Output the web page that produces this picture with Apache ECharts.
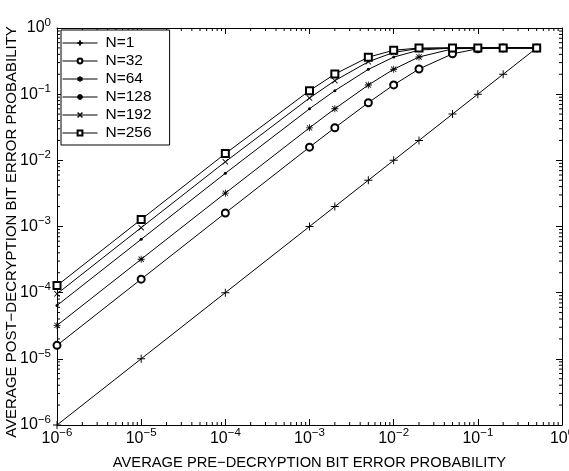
<!DOCTYPE html>
<html>
<head>
<meta charset="utf-8">
<script src="https://cdn.jsdelivr.net/npm/echarts@6/dist/echarts.min.js"></script>
<style>
  html, body { margin: 0; padding: 0; background: #fff; }
  #chart { width: 569px; height: 471px; }
</style>
</head>
<body>
<div id="chart"></div>
<script>
// pre-decryption BER (x) and post-decryption BER for each N (y)
var preBer = [1e-6, 1e-5, 1e-4, 1e-3, 2e-3, 5e-3, 1e-2, 2e-2, 5e-2, 1e-1, 2e-1, 5e-1];
var n1   = [1e-6, 1e-5, 1e-4, 1e-3, 2e-3, 5e-3, 1e-2, 2e-2, 5e-2, 1e-1, 2e-1, 5e-1];
var n32  = [1.6e-5, 1.6e-4, 1.6e-3, 0.0158, 0.0311, 0.0743, 0.138, 0.240, 0.407, 0.486, 0.5, 0.5];
var n64  = [3.2e-5, 3.2e-4, 3.19e-3, 0.031, 0.0602, 0.1375, 0.238, 0.365, 0.483, 0.4996, 0.5, 0.5];
var n128 = [6.4e-5, 6.4e-4, 6.36e-3, 0.0601, 0.113, 0.237, 0.363, 0.463, 0.499, 0.5, 0.5, 0.5];
var n192 = [9.6e-5, 9.6e-4, 9.51e-3, 0.0874, 0.160, 0.309, 0.428, 0.490, 0.5, 0.5, 0.5, 0.5];
var n256 = [1.28e-4, 1.28e-3, 0.01264, 0.113, 0.201, 0.362, 0.462, 0.497, 0.5, 0.5, 0.5, 0.5];
var seriesNames = ['N=1', 'N=32', 'N=64', 'N=128', 'N=192', 'N=256'];

var decades = [-6, -5, -4, -3, -2, -1];

var FONT = 'Liberation Sans, Arial, Helvetica, sans-serif';

// marker shapes (matlab style)
var plusPath = 'path://M4.4,0 L5.6,0 L5.6,10 L4.4,10 Z M0,4.4 L10,4.4 L10,5.6 L0,5.6 Z';
var xPath = 'path://M0,1 L1,0 L10,9 L9,10 Z M9,0 L10,1 L1,10 L0,9 Z';
var starPath = 'path://M4.4,0 L5.6,0 L5.6,10 L4.4,10 Z M0,4.4 L10,4.4 L10,5.6 L0,5.6 Z M0.8,1.6 L1.6,0.8 L9.2,8.4 L8.4,9.2 Z M8.4,0.8 L9.2,1.6 L1.6,9.2 L0.8,8.4 Z';

var chart = echarts.init(document.getElementById('chart'));

function zip(ys) {
  return preBer.map(function (x, i) { return [x, ys[i]]; });
}

function makeLine(name, ys, symbol, size, hollow) {
  return {
    name: name,
    type: 'line',
    data: zip(ys),
    symbol: symbol,
    symbolSize: size,
    showAllSymbol: true,
    lineStyle: { color: '#000', width: 1 },
    itemStyle: { color: '#000', borderColor: '#000', borderWidth: hollow ? 1 : 0 },
    emphasis: { disabled: true },
    animation: false,
    z: 3
  };
}

function supLabel(v) {
  var e = Math.round(Math.log10(v));
  return '{b|10}{s|' + (e < 0 ? '\u2212' + (-e) : e) + '}';
}

var labelRich = {
  b: { fontSize: 16, color: '#000' },
  s: { fontSize: 11.5, color: '#000', padding: [0, 0, 11, 0] }
};

// minor tick values 2..9 in each decade
var minorVals = [];
decades.forEach(function (d) {
  for (var k = 2; k <= 9; k++) minorVals.push(k * Math.pow(10, d));
});

var option = {
  backgroundColor: '#fff',
  animation: false,
  textStyle: { fontFamily: FONT },
  grid: { left: 57, right: 7, top: 28, bottom: 46, outerBoundsMode: 'none', containLabel: false },
  // y axis title, placed like the matlab one
  graphic: [{
    type: 'text',
    x: 12,
    y: 232,
    rotation: Math.PI / 2,
    style: {
      text: 'AVERAGE POST\u2212DECRYPTION BIT ERROR PROBABILITY',
      font: '15px ' + FONT,
      fill: '#000',
      align: 'center',
      verticalAlign: 'middle'
    }
  }],
  legend: {
    data: seriesNames,
    orient: 'vertical',
    left: 61,
    top: 30,
    padding: [5, 18, 4, 1],
    itemGap: 2,
    itemWidth: 35,
    itemHeight: 6,
    borderColor: '#000',
    borderWidth: 1,
    backgroundColor: '#fff',
    lineStyle: { width: 1 },
    itemStyle: { borderWidth: 1 },
    textStyle: { fontFamily: FONT, fontSize: 15.5, color: '#000', lineHeight: 12, padding: [0, 0, 0, 3] }
  },
  xAxis: [{
    type: 'log',
    logBase: 10,
    min: 1e-6,
    max: 1,
    name: 'AVERAGE PRE\u2212DECRYPTION BIT ERROR PROBABILITY',
    nameLocation: 'middle',
    nameGap: 30,
    nameTextStyle: { fontFamily: FONT, fontSize: 14.7, color: '#000' },
    axisLine: { lineStyle: { color: '#000', width: 1 } },
    axisTick: { inside: true, length: 6, lineStyle: { color: '#000' } },
    splitLine: { show: false },
    axisLabel: {
      formatter: supLabel,
      rich: labelRich,
      fontSize: 16, color: '#000', margin: 2
    }
  }, {
    type: 'log',
    logBase: 10,
    min: 1e-6,
    max: 1,
    position: 'top',
    axisLine: { lineStyle: { color: '#000', width: 1 } },
    axisTick: { inside: true, length: 6, lineStyle: { color: '#000' } },
    axisLabel: { show: false },
    splitLine: { show: false }
  }],
  yAxis: [{
    type: 'log',
    logBase: 10,
    min: 1e-6,
    max: 1,
    axisLine: { lineStyle: { color: '#000', width: 1 } },
    axisTick: { inside: true, length: 6, lineStyle: { color: '#000' } },
    splitLine: { show: false },
    axisLabel: {
      formatter: supLabel,
      rich: labelRich,
      fontSize: 16, color: '#000', margin: 6
    }
  }, {
    type: 'log',
    logBase: 10,
    min: 1e-6,
    max: 1,
    position: 'right',
    axisLine: { lineStyle: { color: '#000', width: 1 } },
    axisTick: { inside: true, length: 6, lineStyle: { color: '#000' } },
    axisLabel: { show: false },
    splitLine: { show: false }
  }],
  series: [
    makeLine('N=1', n1, plusPath, 8, false),
    makeLine('N=32', n32, 'emptyCircle', 7, true),
    makeLine('N=64', n64, starPath, 7, false),
    makeLine('N=128', n128, 'circle', 3, false),
    makeLine('N=192', n192, xPath, 6, false),
    makeLine('N=256', n256, 'emptyRect', 7, true),
    {
      // matlab-like minor ticks on all four sides
      type: 'custom',
      silent: true,
      clip: false,
      data: minorVals.map(function (v) { return [v, v]; }),
      renderItem: function (params, api) {
        var v = api.value(0);
        var b = api.coord([v, 1e-6]);
        var t = api.coord([v, 1]);
        var l = api.coord([1e-6, v]);
        var r = api.coord([1, v]);
        var len = 3;
        var st = { stroke: '#000', lineWidth: 1 };
        return {
          type: 'group',
          children: [
            { type: 'line', shape: { x1: b[0], y1: b[1], x2: b[0], y2: b[1] - len }, style: st },
            { type: 'line', shape: { x1: t[0], y1: t[1], x2: t[0], y2: t[1] + len }, style: st },
            { type: 'line', shape: { x1: l[0], y1: l[1], x2: l[0] + len, y2: l[1] }, style: st },
            { type: 'line', shape: { x1: r[0], y1: r[1], x2: r[0] - len, y2: r[1] }, style: st }
          ]
        };
      },
      z: 1
    }
  ]
};

chart.setOption(option);
</script>
</body>
</html>
